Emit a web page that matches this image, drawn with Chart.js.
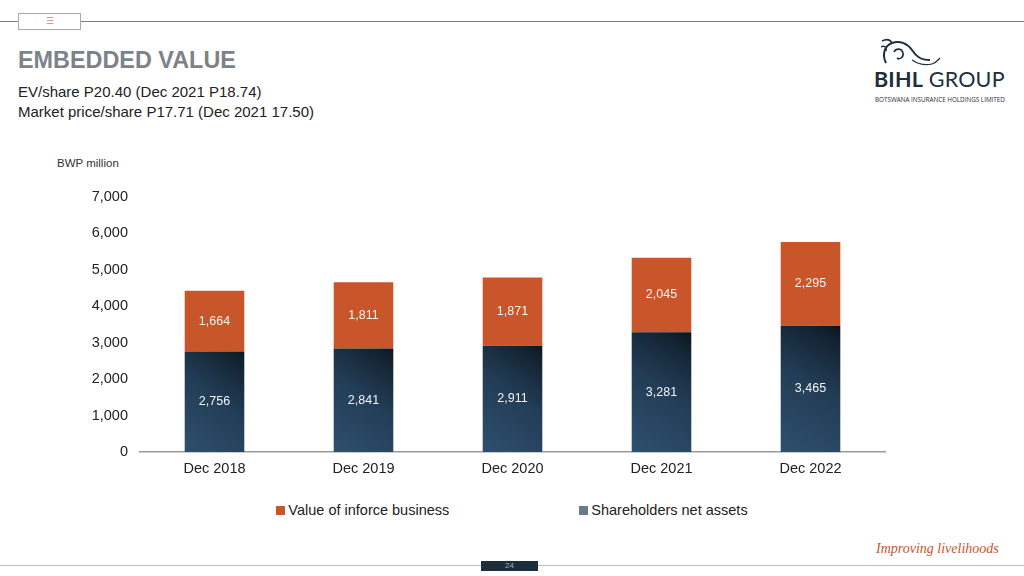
<!DOCTYPE html>
<html lang="en">
<head>
<meta charset="utf-8">
<title>Embedded value</title>
<script src="https://cdn.jsdelivr.net/npm/chart.js"></script>
<style>
  body { margin: 0; width: 1024px; height: 576px; position: relative; background: #fff; overflow: hidden;
         font-family: "Liberation Sans", Arial, sans-serif; color: #333; }
  .abs { position: absolute; }
  #topline { left: 0; top: 21px; width: 1024px; height: 1px; background: #7d7d7d; }
  #tab { left: 18px; top: 13px; width: 61px; height: 15px; border: 1px solid #aaa; background: #fff;
         text-align: center; font-size: 9px; line-height: 15px; color: #e07a7a; }
  #title { left: 18px; top: 47px; font-size: 23.4px; font-weight: bold; color: #7c8288; }
  .sub { left: 18px; font-size: 15px; color: #222; }
  #unit { left: 57px; top: 157px; font-size: 11.5px; color: #333; }
  #legend { left: 0; top: 502px; width: 1024px; display: flex; justify-content: center; gap: 130px; font-size: 14.5px; color: #222; }
  #legend span.box { display: inline-block; width: 9px; height: 9px; margin-right: 3px; vertical-align: 0px; }
  #botline { left: 0; top: 565px; width: 1024px; height: 1px; background: #bbb; }
  #page { left: 481px; top: 561px; width: 57px; height: 10px; background: #1c2e3c; color: #aaa; font-size: 8px; text-align: center; line-height: 10px; }
  #motto { left: 876px; top: 541px; white-space: nowrap; font-family: "Liberation Serif", serif; font-style: italic; font-size: 14px; color: #c8562a; }
  #logo { left: 874px; top: 66px; white-space: nowrap; font-family: Lato, "Open Sans", sans-serif; font-size: 21.5px; color: #1e2e3b; letter-spacing: 0.2px; }
  #logo b { font-weight: bold; }
  #logosub { left: 875px; top: 95px; white-space: nowrap; font-family: "Open Sans", sans-serif; font-size: 6.3px; color: #1e2e3b; }
</style>
</head>
<body>
<div id="topline" class="abs"></div>
<div id="tab" class="abs">&#9776;</div>
<div id="title" class="abs">EMBEDDED VALUE</div>
<div class="abs sub" style="top:83px">EV/share P20.40 (Dec 2021 P18.74)</div>
<div class="abs sub" style="top:103px">Market price/share P17.71 (Dec 2021 17.50)</div>

<svg class="abs" style="left:876px;top:35px" width="70" height="34" viewBox="0 0 70 34">
  <path d="M10 28 C6 20 8 11 16 8 C24 5 32 9 36 15 C40 21 44 25 54 25" fill="none" stroke="#1e2e3b" stroke-width="2"/>
  <path d="M16 8 C14 4 10 4 6 6" fill="none" stroke="#1e2e3b" stroke-width="1.6"/>
  <path d="M5 12 C8 10 11 12 10 16" fill="none" stroke="#1e2e3b" stroke-width="1.4"/>
  <path d="M18 17 C20 13 26 13 27 18 C28 22 24 25 21 23" fill="none" stroke="#1e2e3b" stroke-width="1.6"/>
  <path d="M36 25 C42 29 48 31 56 29 C60 28 62 25 64 23" fill="none" stroke="#1e2e3b" stroke-width="1.2"/>
</svg>
<div id="logo" class="abs"><b>BIHL</b> GROUP</div>
<div id="logosub" class="abs">BOTSWANA INSURANCE HOLDINGS LIMITED</div>

<div id="unit" class="abs">BWP million</div>
<div class="abs" style="left:40px;top:176px;width:944px;height:304px">
  <canvas id="evChart" width="944" height="304"></canvas>
</div>
<div id="legend" class="abs"></div>

<div id="botline" class="abs"></div>
<div id="page" class="abs">24</div>
<div id="motto" class="abs">Improving livelihoods</div>

<script>
  // values, BWP million
  const categories = ['Dec 2018', 'Dec 2019', 'Dec 2020', 'Dec 2021', 'Dec 2022'];
  const netAssets = [2756, 2841, 2911, 3281, 3465];
  const inforceValue = [1664, 1811, 1871, 2045, 2295];
  const yTicks = [0, 1000, 2000, 3000, 4000, 5000, 6000, 7000];

  const orange = '#c9562a';

  // dark navy bars, darker towards the top right corner
  function navyFill(context) {
    const chart = context.chart;
    const area = chart.chartArea;
    if (!area || !chart.scales.x || context.dataIndex === undefined) return '#223c55';
    const xs = chart.scales.x, ys = chart.scales.y;
    const cx = xs.getPixelForValue(context.dataIndex);
    const top = ys.getPixelForValue(netAssets[context.dataIndex]);
    const base = ys.getPixelForValue(0);
    const g = chart.ctx.createLinearGradient(cx - 30, base, cx + 45, top);
    g.addColorStop(0, '#2e4f6e');
    g.addColorStop(0.5, '#223d56');
    g.addColorStop(0.85, '#12212f');
    g.addColorStop(1, '#060c12');
    return g;
  }

  // white value labels in the middle of each segment
  const segmentLabels = {
    id: 'segmentLabels',
    afterDatasetsDraw(chart) {
      const ctx = chart.ctx;
      ctx.save();
      ctx.font = '12.5px "Liberation Sans", Arial, sans-serif';
      ctx.fillStyle = '#f2f2f2';
      ctx.textAlign = 'center';
      ctx.textBaseline = 'middle';
      chart.data.datasets.forEach((ds, i) => {
        chart.getDatasetMeta(i).data.forEach((bar, j) => {
          const mid = (bar.y + bar.base) / 2;
          ctx.fillText(ds.data[j].toLocaleString('en-US'), bar.x, mid);
        });
      });
      ctx.restore();
    }
  };

  const chart = new Chart(document.getElementById('evChart'), {
    type: 'bar',
    data: {
      labels: categories,
      datasets: [
        { label: 'Shareholders net assets', data: netAssets, backgroundColor: navyFill, legendColor: '#6b7a89' },
        { label: 'Value of inforce business', data: inforceValue, backgroundColor: orange, legendColor: orange }
      ]
    },
    options: {
      responsive: false,
      animation: false,
      layout: { padding: { top: 0, right: 99, left: 0, bottom: 0 } },
      datasets: { bar: { categoryPercentage: 1, barPercentage: 0.4 } },
      plugins: { legend: { display: false }, tooltip: { enabled: false } },
      scales: {
        x: {
          stacked: true,
          grid: { display: false, drawTicks: false },
          border: { display: true, color: '#9a9a9a', width: 1.5 },
          ticks: { color: '#222', font: { size: 14.5, family: '"Liberation Sans", Arial, sans-serif' }, padding: 8 },
          afterFit: s => { s.height = 28; }
        },
        y: {
          stacked: true,
          min: 0,
          max: 7000,
          afterBuildTicks: s => { s.ticks = yTicks.map(v => ({ value: v })); },
          grid: { display: false, drawTicks: false },
          border: { display: false },
          ticks: {
            color: '#222',
            padding: 12,
            font: { size: 14.5, family: '"Liberation Sans", Arial, sans-serif' },
            callback: v => v.toLocaleString('en-US')
          },
          afterFit: s => { s.width = 100; }
        }
      }
    },
    plugins: [segmentLabels]
  });

  // legend below the chart, inforce value first as on the slide
  const legend = document.getElementById('legend');
  [1, 0].forEach(i => {
    const ds = chart.data.datasets[i];
    const item = document.createElement('div');
    item.innerHTML = '<span class="box" style="background:' + ds.legendColor + '"></span>' + ds.label;
    legend.appendChild(item);
  });
</script>
</body>
</html>
